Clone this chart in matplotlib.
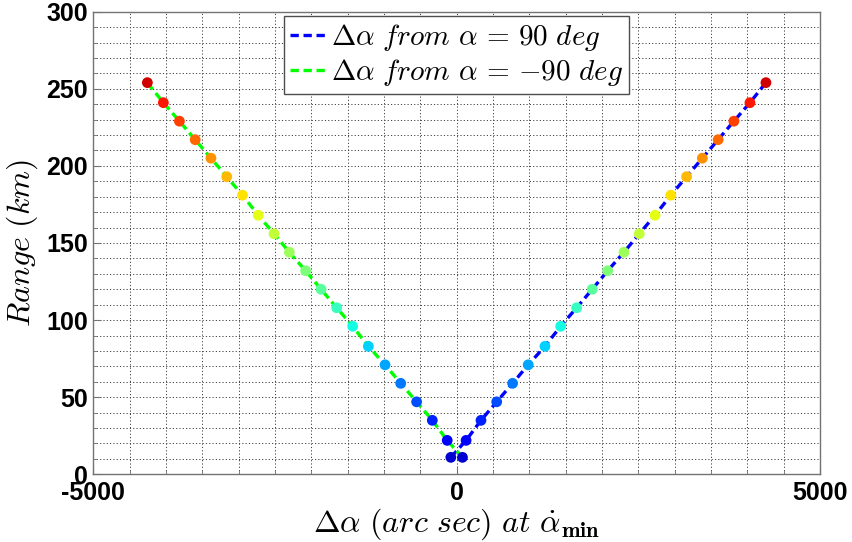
import numpy as np
import matplotlib
matplotlib.use("Agg")
import matplotlib.pyplot as plt
from matplotlib.ticker import MultipleLocator

# range values (km), one per point, bottom to top
range_km = [11, 22, 35, 47, 59, 71, 83, 96, 108, 120, 132, 144, 156,
            168, 181, 193, 205, 217, 229, 241, 254]

# delta alpha (arc sec) for each series
dalpha_90 = [-80, 130, 335, 551, 770, 985, 1215, 1431, 1651, 1866, 2078,
             2302, 2513, 2730, 2947, 3164, 3381, 3598, 3815, 4036, 4256]
dalpha_m90 = [80, -130, -335, -551, -770, -985, -1215, -1431, -1651, -1866,
              -2078, -2302, -2513, -2730, -2947, -3164, -3381, -3598, -3815,
              -4036, -4256]

labels = [r'$\mathbf{\Delta}\alpha\ from\ \alpha\,=\,\mathbf{90}\ deg$',
          r'$\mathbf{\Delta}\alpha\ from\ \alpha\,=\,{-}\mathbf{90}\ deg$']

plt.rcParams['mathtext.fontset'] = 'cm'
plt.rcParams['axes.unicode_minus'] = False

# matlab style jet(21) colours
pt_colors = plt.cm.jet(np.linspace(0.073, 0.927, len(range_km)))

fig = plt.figure(figsize=(8.52, 5.42), dpi=100)
ax = fig.add_axes([93.3 / 852, 1 - 474.3 / 542, 726.7 / 852, 462.6 / 542])

ax.plot(dalpha_90, range_km, color='#0000ff', lw=2.4, dashes=(2.5, 1.4),
        label=labels[0], zorder=2)
ax.plot(dalpha_m90, range_km, color='#00ff00', lw=2.4, dashes=(2.5, 1.4),
        label=labels[1], zorder=2)
ax.scatter(dalpha_90, range_km, c=pt_colors, s=60, edgecolors='none', zorder=3)
ax.scatter(dalpha_m90, range_km, c=pt_colors, s=60, edgecolors='none', zorder=3)

ax.set_xlim(-5000, 5000)
ax.set_ylim(0, 300)
ax.xaxis.set_major_locator(MultipleLocator(5000))
ax.xaxis.set_minor_locator(MultipleLocator(500))
ax.yaxis.set_major_locator(MultipleLocator(50))
ax.yaxis.set_minor_locator(MultipleLocator(10))

ax.grid(which='both', color='0.25', lw=0.7, linestyle=(0, (1.2, 2.2)))
ax.set_axisbelow(True)
for s in ax.spines.values():
    s.set_color('0.45')
    s.set_linewidth(1.0)
ax.tick_params(which='both', direction='in', color='0.45', top=False, right=False)
ax.tick_params(which='major', length=6)
ax.tick_params(which='minor', length=3)
ax.tick_params(axis='x', pad=5)
ax.tick_params(axis='y', pad=4)

for t in ax.get_xticklabels() + ax.get_yticklabels():
    t.set_fontfamily(['Liberation Sans Narrow', 'Liberation Sans'])
    t.set_fontweight('bold')
    t.set_fontsize(18)

ax.set_xlabel(r'$\mathbf{\Delta}\alpha\ (arc\ sec)\ at\ \dot{\alpha}_{\mathbf{min}}$',
              fontsize=23, labelpad=1)
ax.set_ylabel(r'$Range\ (km)$', fontsize=23, labelpad=4)

leg = ax.legend(loc='upper center', fontsize=21, handlelength=1.2,
                handletextpad=0.2, borderpad=0.2, labelspacing=0.15,
                borderaxespad=0.15, fancybox=False, framealpha=1)
leg.get_frame().set_edgecolor('0.3')
leg.get_frame().set_linewidth(1.0)

fig.savefig('out.png', dpi=100)
